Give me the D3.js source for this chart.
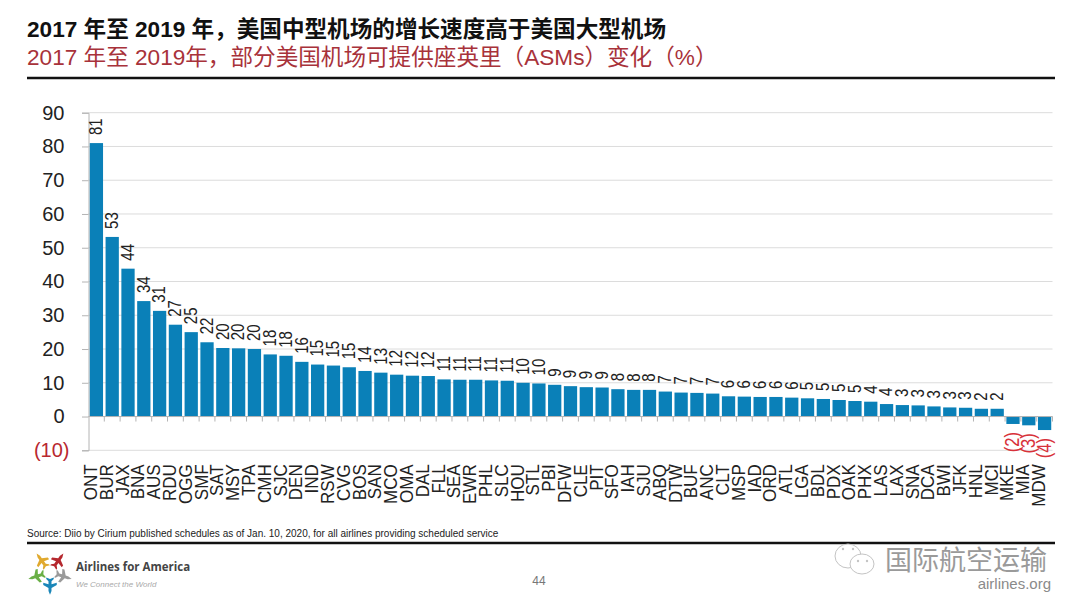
<!DOCTYPE html>
<html>
<head>
<meta charset="utf-8">
<script src="https://d3js.org/d3.v7.min.js"></script>
<style>
 html, body { margin: 0; padding: 0; background: #fff; }
 text { font-family: "Liberation Sans", "Noto Sans CJK SC", sans-serif; }
</style>
</head>
<body>
<div id="d3svg"></div>
<script>
//The airports, in the order of the bars.
var categories = ["ONT","BUR","JAX","BNA","AUS","RDU","OGG","SMF","SAT","MSY","TPA","CMH","SJC","DEN","IND","RSW","CVG","BOS","SAN","MCO","OMA","DAL","FLL","SEA","EWR","PHL","SLC","HOU","STL","PBI","DFW","CLE","PIT","SFO","IAH","SJU","ABQ","DTW","BUF","ANC","CLT","MSP","IAD","ORD","ATL","LGA","BDL","PDX","OAK","PHX","LAS","LAX","SNA","DCA","BWI","JFK","HNL","MCI","MKE","MIA","MDW"];

//ASM change in percent.
var values = [81,53.2,43.8,34.2,31.3,27.2,25,22,20.3,20.2,20,18.4,18,16.2,15.4,15.1,14.6,13.5,13,12.4,12.1,12,11,10.9,10.9,10.7,10.6,10,9.8,9.4,9,8.7,8.6,8.1,7.9,7.9,7.4,7.1,7,6.8,6,5.9,5.8,5.8,5.6,5.4,5.2,4.9,4.6,4.4,3.7,3.4,3.3,3,2.7,2.6,2.3,2.3,-2.2,-2.6,-4];

var yTicks = [-10,0,10,20,30,40,50,60,70,80,90];

var titleText = "2017 年至 2019 年，美国中型机场的增长速度高于美国大型机场";
var subtitleText = "2017 年至 2019年，部分美国机场可提供座英里（ASMs）变化（%）";
var sourceText = "Source: Diio by Cirium published schedules as of Jan. 10, 2020, for all airlines providing scheduled service";

//Create the SVG graph.
var svg = d3.select("#d3svg").append("svg").attr("width", 1080).attr("height", 608).style("display", "block");

//The plot area.
var plotLeft = 88.5, plotRight = 1052.5, plotTop = 112.7, plotBottom = 450.3;

var x = d3.scaleBand().domain(categories).range([plotLeft, plotRight]).paddingInner(0.16).paddingOuter(0.08);
var y = d3.scaleLinear().domain([-10, 90]).range([plotBottom, plotTop]);

var barColor = "#0a80b8";
var labelRed = "#d8323a";

//The slide was stretched sideways, so turned text comes out fatter than it is long.
var turnedText = "rotate(-90) scale(1,1.2)";
var turnedCategory = "rotate(-90) scale(1,1.1)";

//Format a value the way the slide does, negatives in brackets.
function formatValue(d) {
 return d < 0 ? "(" + Math.round(-d) + ")" : "" + Math.round(d);
}

//Gridlines.
svg.append("g").selectAll("line").data(yTicks).enter().append("line")
 .attr("x1", plotLeft).attr("x2", plotRight)
 .attr("y1", function(d) { return y(d); }).attr("y2", function(d) { return y(d); })
 .attr("stroke", "#dcdcdc").attr("stroke-width", 1);

//Y axis.
var yAxis = svg.append("g").attr("transform", "translate(" + plotLeft + ",0)")
 .call(d3.axisLeft(y).tickValues(yTicks).tickSize(6.5).tickFormat(formatValue));
yAxis.select(".domain").attr("stroke", "#b4b4b4");
yAxis.selectAll("line").attr("stroke", "#b4b4b4");
yAxis.selectAll("text")
 .attr("font-size", 20).attr("fill", function(d) { return d < 0 ? "#b8282f" : "#222"; })
 .attr("x", function(d) { return d < 0 ? -19 : -24; })
 .style("font-family", "'Liberation Sans', sans-serif");

//Bars.
svg.append("g").selectAll("rect").data(values).enter().append("rect")
 .attr("x", function(d, i) { return x(categories[i]); })
 .attr("y", function(d) { return y(Math.max(d, 0)); })
 .attr("width", x.bandwidth())
 .attr("height", function(d) { return Math.abs(y(d) - y(0)); })
 .attr("fill", barColor);

//Zero line and the small ticks between the bars.
var step = x.step();
svg.append("line").attr("x1", plotLeft).attr("x2", plotRight).attr("y1", y(0)).attr("y2", y(0)).attr("stroke", "#b4b4b4");
svg.append("g").selectAll("line").data(categories).enter().append("line")
 .attr("x1", function(d) { return x(d) + x.bandwidth() + (step - x.bandwidth()) / 2; })
 .attr("x2", function(d) { return x(d) + x.bandwidth() + (step - x.bandwidth()) / 2; })
 .attr("y1", y(0)).attr("y2", y(0) + 5)
 .attr("stroke", "#b4b4b4");

//Category labels.
var xAxis = svg.append("g").attr("transform", "translate(0," + plotBottom + ")")
 .call(d3.axisBottom(x).tickSize(0));
xAxis.select(".domain").remove();
xAxis.selectAll("text")
 .attr("transform", turnedCategory)
 .attr("text-anchor", "end")
 .attr("x", -14).attr("y", -5.5).attr("dy", "0.35em")
 .attr("font-size", 17).attr("fill", "#222")
 .style("font-family", "'Liberation Sans', sans-serif");

//Value labels, turned on their side above (or under) each bar.
svg.append("g").selectAll("text").data(values).enter().append("text")
 .text(formatValue)
 .attr("transform", function(d, i) {
  var px = x(categories[i]) + x.bandwidth() / 2 - 0.5;
  var py = d < 0 ? y(d) + 8 : y(d) - 8;
  return "translate(" + px + "," + py + ") " + turnedText;
 })
 .attr("text-anchor", function(d) { return d < 0 ? "end" : "start"; })
 .attr("dy", "0.35em")
 .attr("font-size", function(d) { return d < 0 ? 16.5 : 15; })
 .attr("fill", function(d) { return d < 0 ? labelRed : "#222"; });

//Titles and rules.
svg.append("text").text(titleText).attr("x", 27).attr("y", 37).attr("font-size", 22.6).attr("font-weight", "bold").attr("fill", "#111");
svg.append("text").text(subtitleText).attr("x", 27).attr("y", 65).attr("font-size", 22.6).attr("fill", "#a8323a");
svg.append("line").attr("x1", 27).attr("x2", 1055).attr("y1", 78).attr("y2", 78).attr("stroke", "#111").attr("stroke-width", 2.5);

//Footer.
svg.append("text").text(sourceText).attr("x", 27).attr("y", 537).attr("font-size", 10).attr("fill", "#222");
svg.append("line").attr("x1", 27).attr("x2", 1055).attr("y1", 543).attr("y2", 543).attr("stroke", "#111").attr("stroke-width", 2.5);
svg.append("text").text("44").attr("x", 539).attr("y", 585).attr("text-anchor", "middle").attr("font-size", 12).attr("fill", "#777");

//Airlines for America logo: five small planes around a white star.
var planePath = "M0,-21 L2,-16 L2,-12 L9,-8 L9,-5 L2,-7 L2,-3 L5,0 L5,2 L0,0 L-5,2 L-5,0 L-2,-3 L-2,-7 L-9,-5 L-9,-8 L-2,-12 L-2,-16 Z";
var logoPlanes = [{a: -36, c: "#e0a92e"}, {a: 36, c: "#b5282e"}, {a: 108, c: "#9a9a9a"}, {a: 180, c: "#1a86b8"}, {a: 252, c: "#6aaf46"}];
svg.append("g").attr("transform", "translate(50,572)").selectAll("path").data(logoPlanes).enter().append("path")
 .attr("d", planePath)
 .attr("transform", function(d) { return "rotate(" + d.a + ") translate(0,-7) scale(0.75)"; })
 .attr("fill", function(d) { return d.c; });
svg.append("text").text("Airlines for America").attr("x", 76).attr("y", 571).style("font-family", "'Open Sans', sans-serif").attr("font-size", 11.5).attr("font-weight", "bold").attr("fill", "#444");
svg.append("text").text("We Connect the World").attr("x", 76).attr("y", 587).attr("font-size", 8).attr("font-style", "italic").attr("fill", "#aaa");

//Watermark in the lower right corner.
var mark = svg.append("g").attr("fill", "#fff").attr("stroke", "#c4c4c4").attr("stroke-width", 1);
mark.append("ellipse").attr("cx", 848).attr("cy", 556).attr("rx", 13).attr("ry", 12);
mark.append("ellipse").attr("cx", 862).attr("cy", 564).attr("rx", 12).attr("ry", 10);
var dots = svg.append("g").attr("fill", "#c4c4c4");
dots.append("circle").attr("cx", 843).attr("cy", 549).attr("r", 1.2);
dots.append("circle").attr("cx", 853).attr("cy", 549).attr("r", 1.2);
dots.append("circle").attr("cx", 858).attr("cy", 561).attr("r", 1.2);
dots.append("circle").attr("cx", 867).attr("cy", 561).attr("r", 1.2);
svg.append("text").text("国际航空运输").attr("x", 885).attr("y", 570).attr("font-size", 27).attr("fill", "#9a9a9a");
svg.append("text").text("airlines.org").attr("x", 1051).attr("y", 589).attr("text-anchor", "end").attr("font-size", 15).attr("fill", "#8a8a8a");
</script>
</body>
</html>
